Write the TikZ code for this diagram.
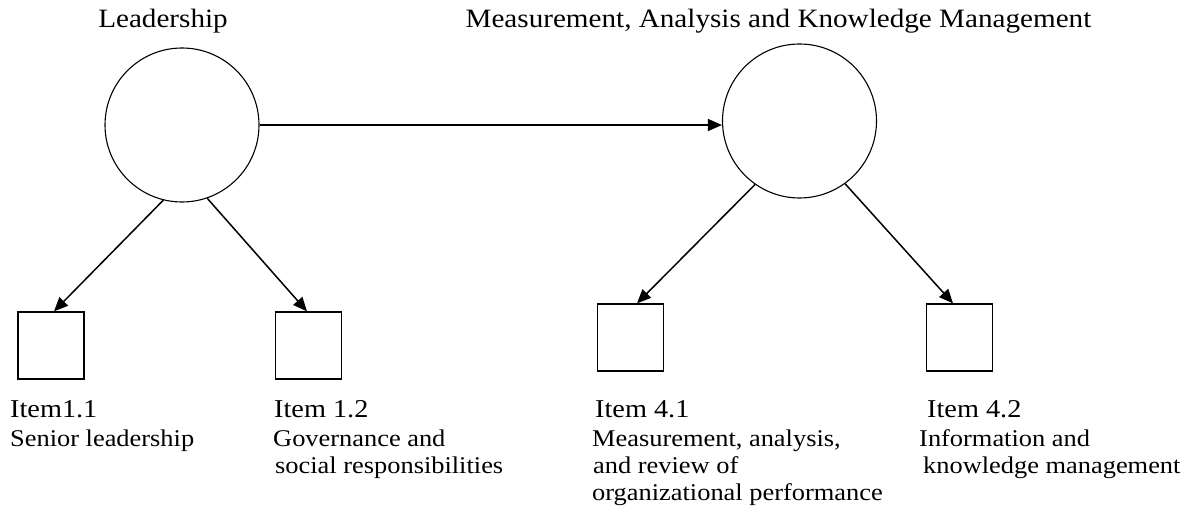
\documentclass[tikz,border=0pt]{standalone}
\usepackage{fontspec}
\setmainfont{Liberation Serif}[FakeStretch=1.1]
\usetikzlibrary{arrows.meta}

\tikzset{
  construct/.style={circle, draw, line width=1.1pt, minimum size=154pt, inner sep=0pt},
  indicator/.style={rectangle, draw, line width=1.3pt, minimum width=66pt, minimum height=67pt, inner sep=0pt},
  link/.style={line width=1.5pt, -{Triangle[length=14pt,width=12pt]}},
  title/.style={anchor=base, inner sep=0pt, font=\fontsize{26.5}{30}\selectfont},
  itemlabel/.style={anchor=base west, inner sep=0pt, font=\fontsize{25.7}{30}\selectfont},
  desc/.style={anchor=base west, inner sep=0pt, font=\fontsize{24}{27}\selectfont}
}

\begin{document}
\begin{tikzpicture}[x=1pt, y=-1pt]
  \useasboundingbox (0,0) rectangle (1199,518);

  % latent constructs
  \node[construct] (lead) at (182,125) {};
  \node[construct] (meas) at (799.5,121) {};
  \node[title] (leadT) at (163,28) {Leadership};
  \node[title] (measT) at (778.5,28) {Measurement, Analysis and Knowledge Management};

  % observed items
  \node[indicator] (i11) at (51,345.5) {};
  \node[indicator] (i12) at (308.5,345.5) {};
  \node[indicator] (i41) at (630.5,337.5) {};
  \node[indicator] (i42) at (959.5,337.5) {};

  % structural path
  \draw[link] (lead.east) -- (lead.east -| meas.west);

  % measurement paths
  \draw[link] (lead.256) -- ([xshift=3pt]i11.north);
  \draw[link] (lead.289) -- ([xshift=-1.5pt]i12.north);
  \draw[link] (meas.235) -- ([xshift=6.5pt]i41.north);
  \draw[link] (meas.306) -- ([xshift=-6.5pt]i42.north);

  % item captions
  \node[itemlabel] (l11) at (10,417) {Item1.1};
  \node[desc] (d11a) at (10,446) {Senior leadership};

  \node[itemlabel] (l12) at (274,417) {Item 1.2};
  \node[desc] (d12a) at (273,446) {Governance and};
  \node[desc] (d12b) at (275,473) {social responsibilities};

  \node[itemlabel] (l41) at (595,417) {Item 4.1};
  \node[desc] (d41a) at (592,446) {Measurement, analysis,};
  \node[desc] (d41b) at (593,473) {and review of};
  \node[desc] (d41c) at (592,500) {organizational performance};

  \node[itemlabel] (l42) at (927,417) {Item 4.2};
  \node[desc] (d42a) at (919,446) {Information and};
  \node[desc] (d42b) at (923,473) {knowledge management};
\end{tikzpicture}
\end{document}
